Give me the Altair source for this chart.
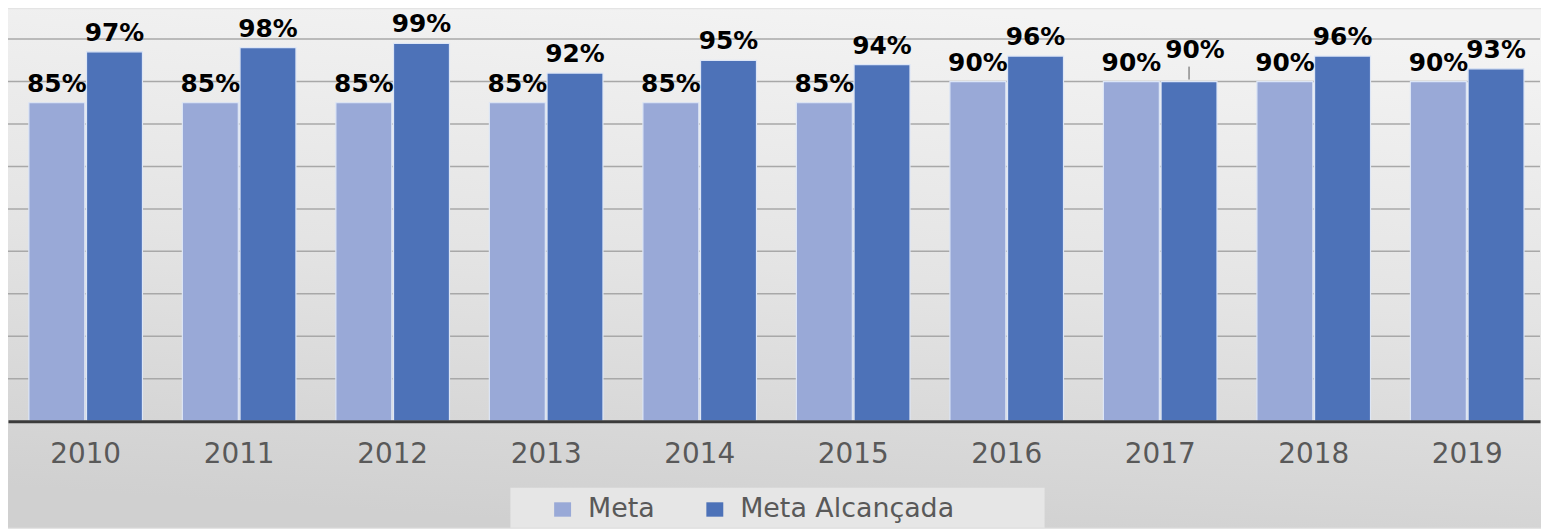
import altair as alt
import pandas as pd

years = [str(y) for y in range(2010, 2020)]
meta = [85, 85, 85, 85, 85, 85, 90, 90, 90, 90]
alcancada = [97, 98, 99, 92, 95, 94, 96, 90, 96, 93]
series = ["Meta", "Meta Alcançada"]
colors = ["#99A9D7", "#4D72B8"]
grid_values = [20, 30, 40, 50, 60, 70, 80, 90, 100]

rows = []
for i, yr in enumerate(years):
    rows.append({"ano": yr, "serie": series[0], "valor": meta[i] / 100, "rotulo": f"{meta[i]}%"})
    rows.append({"ano": yr, "serie": series[1], "valor": alcancada[i] / 100, "rotulo": f"{alcancada[i]}%"})
df = pd.DataFrame(rows)
grid_df = pd.DataFrame({"g": [v / 100 for v in grid_values]})

W, H = 1540, 414
TOTAL_H = 521

y_scale = alt.Scale(domain=[0.1, 1.07], nice=False, zero=False)
x_scale = alt.Scale(paddingInner=0.26, paddingOuter=0.12, align=0.566)
xo_scale = alt.Scale(paddingInner=0.03)

gradient = alt.LinearGradient(
    gradient="linear",
    stops=[alt.GradientStop(color="#f3f3f3", offset=0),
           alt.GradientStop(color="#e4e4e4", offset=0.5),
           alt.GradientStop(color="#d0d0d0", offset=1)],
    x1=0.6, y1=0, x2=0.4, y2=1,
)

bg = alt.Chart(pd.DataFrame({"a": [0]})).mark_rect(color=gradient).encode(
    x=alt.value(0), x2=alt.value(W + 1), y=alt.value(0), y2=alt.value(TOTAL_H)
)

legend_box = alt.Chart(pd.DataFrame({"a": [0]})).mark_rect(color="#e6e6e6").encode(
    x=alt.value(505), x2=alt.value(1042), y=alt.value(481), y2=alt.value(TOTAL_H)
)

grid = alt.Chart(grid_df).mark_rule(color="#a8a8a8", strokeWidth=1.5).encode(
    y=alt.Y("g:Q", scale=y_scale, axis=None)
)

x_enc = alt.X(
    "ano:N", scale=x_scale, sort=years,
    axis=alt.Axis(title=None, labelFontSize=28, labelFont="DejaVu Sans", labelColor="#595959",
                  labelPadding=20, ticks=False, domainColor="#3b3b3b", domainWidth=3,
                  labelAngle=0, zindex=1, grid=False),
)
xo_enc = alt.XOffset("serie:N", scale=xo_scale, sort=series)
y_enc = alt.Y("valor:Q", scale=y_scale, axis=None)

bars = alt.Chart(df).mark_bar(stroke="#dde6f6", strokeWidth=1.2).encode(
    x=x_enc,
    xOffset=xo_enc,
    y=y_enc,
    y2=alt.datum(0.1),
    color=alt.Color(
        "serie:N", sort=series,
        scale=alt.Scale(domain=series, range=colors),
        legend=alt.Legend(title=None, orient="none", legendX=544, legendY=489,
                          direction="horizontal",
                          symbolType="M-1,-0.85H1V0.85H-1Z",
                          symbolSize=289, labelFontSize=27, labelFont="DejaVu Sans",
                          labelColor="#595959", padding=0, labelOffset=12,
                          columnPadding=46, symbolStrokeWidth=0, zindex=1,
                          labelLimit=400),
    ),
)

text_style = dict(baseline="alphabetic", font="DejaVu Sans", fontWeight="bold",
                  fontSize=25, color="#000000")

labels = alt.Chart(df).transform_filter(
    "!(datum.ano == '2017' && datum.serie == 'Meta Alcançada')"
).mark_text(dy=-11, **text_style).encode(
    x=alt.X("ano:N", scale=x_scale, sort=years),
    xOffset=xo_enc,
    y=y_enc,
    text="rotulo:N",
)

label_2017 = alt.Chart(df).transform_filter(
    "datum.ano == '2017' && datum.serie == 'Meta Alcançada'"
).mark_text(dy=-24, dx=6, **text_style).encode(
    x=alt.X("ano:N", scale=x_scale, sort=years),
    xOffset=xo_enc,
    y=y_enc,
    text="rotulo:N",
)

leader_2017 = alt.Chart(df).transform_filter(
    "datum.ano == '2017' && datum.serie == 'Meta Alcançada'"
).mark_rule(color="#595959", strokeWidth=1, yOffset=-2, y2Offset=-15).encode(
    x=alt.X("ano:N", scale=x_scale, sort=years),
    xOffset=xo_enc,
    y=y_enc,
    y2="valor:Q",
)

chart = alt.layer(bg, legend_box, grid, bars, labels, label_2017, leader_2017).properties(
    width=W, height=H,
    autosize=alt.AutoSizeParams(type="none"),
    padding={"left": 0, "top": 0, "right": 1, "bottom": TOTAL_H - H},
    background="#e4e4e4",
).configure_view(stroke=None)

chart.save("out.html", embed_options={"renderer": "svg", "actions": False})
